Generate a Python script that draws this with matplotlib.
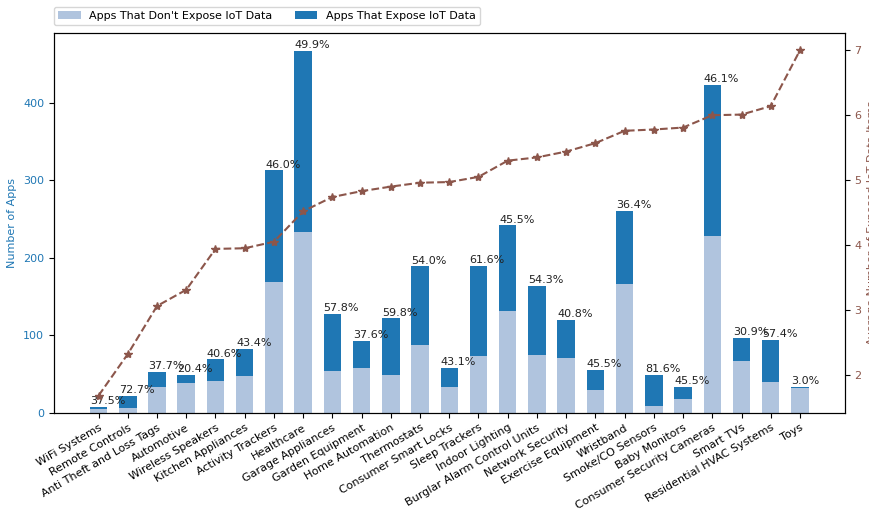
import numpy as np
import matplotlib
matplotlib.use('Agg')
import matplotlib.pyplot as plt

# categories, sorted by the average number of exposed items
categories = ['WiFi Systems', 'Remote Controls', 'Anti Theft and Loss Tags', 'Automotive',
              'Wireless Speakers', 'Kitchen Appliances', 'Activity Trackers', 'Healthcare',
              'Garage Appliances', 'Garden Equipment', 'Home Automation', 'Thermostats',
              'Consumer Smart Locks', 'Sleep Trackers', 'Indoor Lighting',
              'Burglar Alarm Control Units', 'Network Security', 'Exercise Equipment',
              'Wristband', 'Smoke/CO Sensors', 'Baby Monitors', 'Consumer Security Cameras',
              'Smart TVs', 'Residential HVAC Systems', 'Toys']

# apps that expose / don't expose IoT data
expose = [3, 16, 20, 10, 28, 36, 144, 233, 74, 35, 73, 102, 25, 117, 110,
          89, 49, 25, 95, 40, 15, 195, 30, 54, 1]
no_expose = [5, 6, 33, 39, 41, 47, 169, 234, 54, 58, 49, 87, 33, 73, 132,
             75, 71, 30, 166, 9, 18, 228, 67, 40, 32]

# average number of exposed IoT data items
avg_items = [1.68, 2.32, 3.06, 3.31, 3.94, 3.95, 4.05, 4.52, 4.74, 4.83, 4.90, 4.96,
             4.97, 5.05, 5.30, 5.35, 5.44, 5.57, 5.76, 5.78, 5.81, 6.00, 6.01, 6.14, 7.00]

x = np.arange(len(categories))
w = 0.6
expose = np.array(expose)
no_expose = np.array(no_expose)
total = expose + no_expose

plt.rcParams['font.size'] = 8

fig = plt.figure(figsize=(8.69, 5.09), dpi=100)
ax1 = fig.add_axes([0.062, 0.189, 0.910, 0.746])

ax1.bar(x, no_expose, w, color='lightsteelblue', label="Apps That Don't Expose IoT Data")
ax1.bar(x, expose, w, bottom=no_expose, color='#1f77b4', label='Apps That Expose IoT Data')

# percentage of apps exposing data above each bar
for i in range(len(x)):
    pct = 100.0 * expose[i] / total[i]
    ax1.text(x[i] - w / 2, total[i] + 1, '%.1f%%' % pct, ha='left', va='bottom',
             fontsize=8, color='#222222')

ax1.set_xticks(x)
ax1.set_xticklabels(categories, rotation=30, ha='right', rotation_mode='anchor')
ax1.set_ylabel('Number of Apps', color='#1f77b4', fontsize=8)
ax1.tick_params(axis='y', labelcolor='#1f77b4')

ax2 = ax1.twinx()
ax2.plot(x, avg_items, '--', marker='*', color='#8c564b', markersize=6)
ax2.set_ylabel('Average Number of Exposed IoT Data Items', color='#8c564b', fontsize=8)
ax2.tick_params(axis='y', labelcolor='#8c564b')

ax1.legend(loc='lower left', bbox_to_anchor=(0, 1.02), ncol=2, borderaxespad=0,
           fontsize=8)

fig.savefig('out.png', dpi=100)
